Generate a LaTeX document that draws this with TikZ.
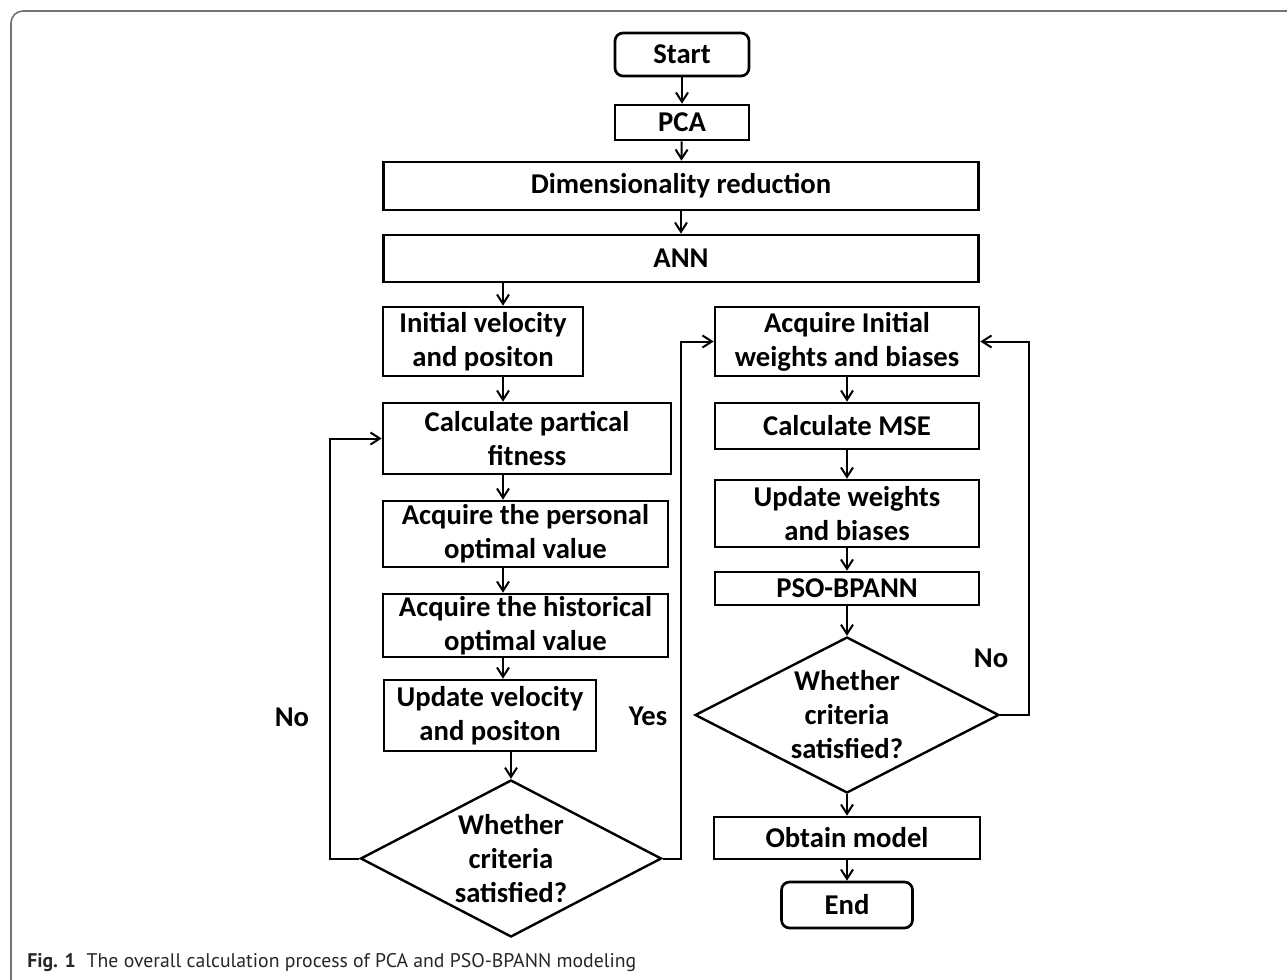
\documentclass[tikz,border=0pt]{standalone}
\usepackage{fontspec}
\setmainfont{Carlito}
\newfontfamily\capfont{PT Sans}
\usetikzlibrary{shapes.geometric,arrows.meta}

\begin{document}
\begin{tikzpicture}[x=0.75pt,y=-0.75pt,
    every node/.style={font=\fontsize{21.5}{25.5}\selectfont\bfseries},
    wh/.style 2 args={minimum width=#1*0.75pt, minimum height=#2*0.75pt},
    block/.style={rectangle, draw, line width=2pt, inner sep=0pt, align=center},
    terminal/.style={block, rounded corners=6pt},
    decision/.style={diamond, aspect=2, draw, line width=1.8pt, inner sep=-2pt, align=center},
    flow/.style={line width=1.5pt, -{Straight Barb[length=7pt,width=9pt]}}]
   \useasboundingbox (0,0) rectangle (1287,980);
   \draw[black!55, line width=1.2pt, rounded corners=9pt] (11,980) -- (11,11) -- (1287,11);
   \node[terminal, wh={134}{43}] (start) at (682,54.5) {Start};
   \node[block, wh={134}{35}] (pca) at (682,122.5) {PCA};
   \node[block, wh={595}{48}] (dim) at (681,186) {Dimensionality reduction};
   \node[block, wh={595}{47}] (ann) at (681,258.5) {ANN};
   \node[block, wh={200}{69}] (init) at (483,341.5) {Initial velocity\\and positon};
   \node[block, wh={288}{71}] (fit) at (527,438.5) {Calculate partical\\fitness};
   \node[block, wh={285}{66}] (pbest) at (525.5,534) {Acquire the personal\\optimal value};
   \node[block, wh={285}{63}] (gbest) at (525.5,625.5) {Acquire the historical\\optimal value};
   \node[block, wh={212}{71}] (upd) at (490,715.5) {Update velocity\\and positon};
   \node[decision, wh={301}{157}] (cond1) at (511,858.5) {Whether\\criteria\\satisfied?};
   \node[block, wh={264}{69}] (winit) at (847,341.5) {Acquire Initial\\weights and biases};
   \node[block, wh={264}{46}] (mse) at (847,426) {Calculate MSE};
   \node[block, wh={264}{67}] (uw) at (847,513.5) {Update weights\\and biases};
   \node[block, wh={264}{33}] (pso) at (847,588.5) {PSO-BPANN};
   \node[decision, wh={304}{156}] (cond2) at (847,715) {Whether\\criteria\\satisfied?};
   \node[block, wh={266}{42}] (model) at (847,838) {Obtain model};
   \node[terminal, wh={131}{46}] (end) at (847,905) {End};
   \node (no1) at (292,717) {No};
   \node (yes1) at (648,716) {Yes};
   \node (no2) at (991,658) {No};
   \node[anchor=base west, inner sep=0pt, font=\capfont\fontsize{14.8}{17}\selectfont, text=black!85] (cap) at (27,967)
      {\textbf{Fig. 1}\hspace{0.55em}The overall calculation process of PCA and PSO-BPANN modeling};
   \coordinate (lx) at (503,0);
   \coordinate (nl) at (330,0);
   \coordinate (yl) at (681,0);
   \coordinate (nr) at (1029,0);
   \draw[flow] (start) -- (pca);
   \draw[flow] (pca) -- (dim);
   \draw[flow] (dim) -- (ann);
   \draw[flow] (ann.south -| lx) -- (init.north -| lx);
   \draw[flow] (init.south -| lx) -- (fit.north -| lx);
   \draw[flow] (fit.south -| lx) -- (pbest.north -| lx);
   \draw[flow] (pbest.south -| lx) -- (gbest.north -| lx);
   \draw[flow] (gbest.south -| lx) -- (upd.north -| lx);
   \draw[flow] (upd.south -| cond1.north) -- (cond1.north);
   \draw[flow] (cond1.west) -- (cond1.west -| nl) |- (fit.west);
   \draw[flow] (cond1.east) -- (cond1.east -| yl) |- (winit.west);
   \draw[flow] (winit) -- (mse);
   \draw[flow] (mse) -- (uw);
   \draw[flow] (uw) -- (pso);
   \draw[flow] (pso) -- (cond2);
   \draw[flow] (cond2) -- (model);
   \draw[flow] (model) -- (end);
   \draw[flow] (cond2.east) -- (cond2.east -| nr) |- (winit.east);
 \end{tikzpicture}
\end{document}
